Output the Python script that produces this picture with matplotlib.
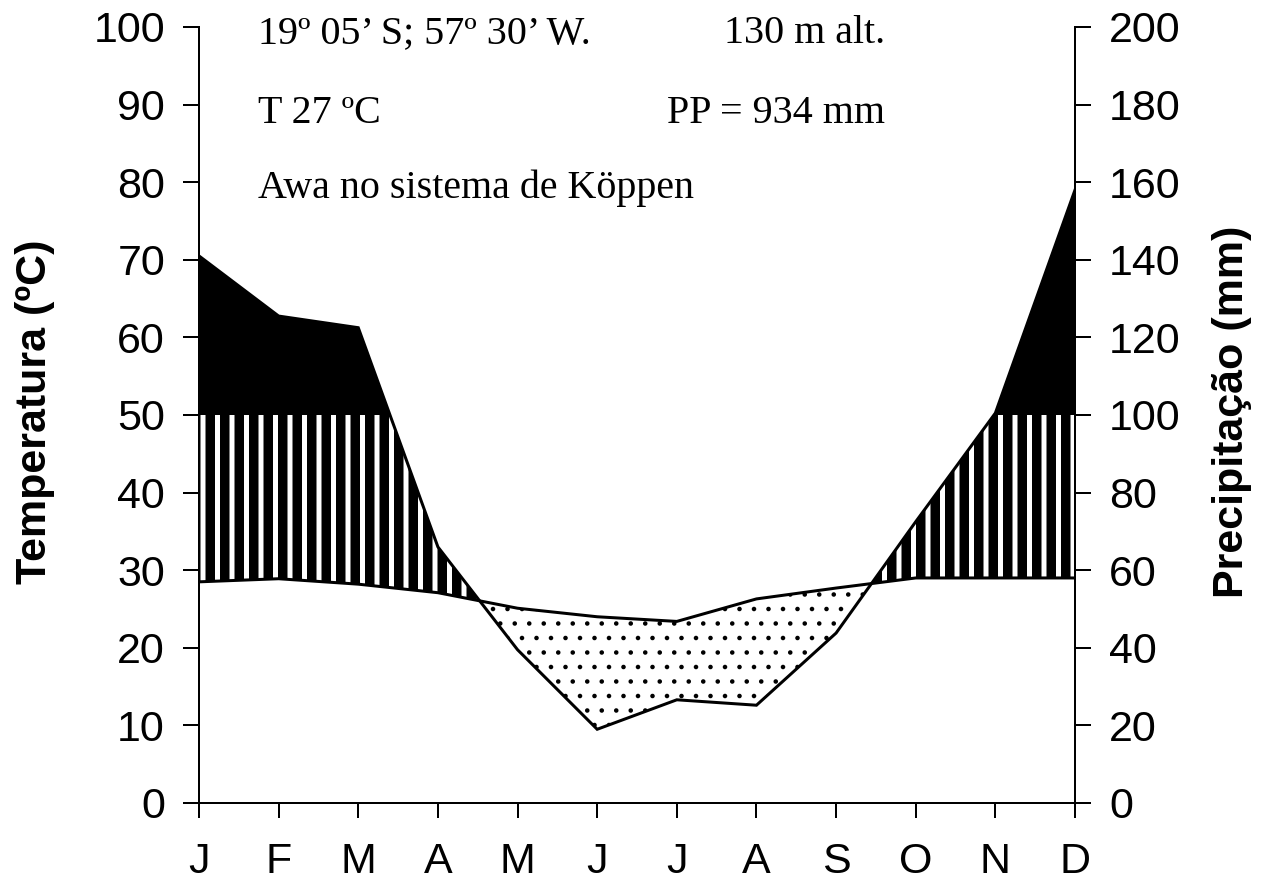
import numpy as np
import matplotlib
matplotlib.use("Agg")
import matplotlib.pyplot as plt

meses = ["J", "F", "M", "A", "M", "J", "J", "A", "S", "O", "N", "D"]
temperatura = [28.5, 28.9, 28.2, 27.1, 25.1, 24.0, 23.4, 26.3, 27.7, 29.0, 29.0, 29.0]  # ºC
precipitacao = [141, 125.5, 122.5, 66, 39.5, 19, 26.6, 25.2, 43.8, 72.5, 100.5, 158]  # mm

DPI = 87
PX = 72 / DPI  # pontos por pixel

plt.rcParams["font.family"] = ["Liberation Sans", "DejaVu Sans"]

fig = plt.figure(figsize=(1263 / DPI, 885 / DPI), dpi=DPI)
ax = fig.add_axes([199 / 1263, 82 / 885, 876 / 1263, 776 / 885])

x = np.arange(len(meses))
temp = np.array(temperatura)
prec = np.array(precipitacao) / 2  # escala 1 ºC = 2 mm

# grade fina so para os preenchimentos
xf = np.linspace(0, 11, 2201)
tf = np.interp(xf, x, temp)
pf = np.interp(xf, x, prec)

# periodo super-umido (> 100 mm)
ax.fill_between(xf, 50, pf, where=pf >= 50, facecolor="black",
                edgecolor="black", linewidth=0)

# periodo umido : listras verticais
with plt.rc_context({"hatch.linewidth": 9.5 * PX}):
    listras = ax.fill_between(xf, tf, np.minimum(pf, 50), where=pf >= tf,
                              facecolor="white", edgecolor="black",
                              linewidth=0, hatch="|")
if hasattr(listras, "set_hatch_linewidth"):
    listras.set_hatch_linewidth(9.5 * PX)

# periodo seco : pontilhado
with plt.rc_context({"hatch.linewidth": 1.6 * PX}):
    pontos = ax.fill_between(xf, pf, tf, where=tf >= pf, facecolor="white",
                             edgecolor="black", linewidth=0, hatch=".")
if hasattr(pontos, "set_hatch_linewidth"):
    pontos.set_hatch_linewidth(1.6 * PX)

ax.plot(x, temp, color="black", linewidth=3 * PX, solid_joinstyle="miter")
ax.plot(x, prec, color="black", linewidth=3 * PX, solid_joinstyle="miter")

ax.set_xlim(0, 11)
ax.set_ylim(0, 100)
ax.set_xticks(x)
ax.set_xticklabels(meses)
ax.set_yticks(np.arange(0, 101, 10))

ax2 = ax.twinx()
ax2.set_ylim(0, 200)
ax2.set_yticks(np.arange(0, 201, 20))

for a in (ax, ax2):
    for s in a.spines.values():
        s.set_linewidth(2 * PX)
    a.spines["top"].set_visible(False)
ax.spines["right"].set_visible(False)
ax2.spines["left"].set_visible(False)
ax2.spines["bottom"].set_visible(False)

fs = 43 * PX
ax.tick_params(axis="y", direction="out", length=16 * PX, width=2 * PX,
               labelsize=fs, pad=18 * PX)
ax.tick_params(axis="x", direction="out", length=15 * PX, width=2 * PX,
               labelsize=fs, pad=24 * PX)
ax2.tick_params(axis="y", direction="out", length=16 * PX, width=2 * PX,
                labelsize=fs, pad=18 * PX)

fig.text(35 / 1263, 1 - 412 / 885, "Temperatura (ºC)", rotation=90,
         ha="center", va="center", fontsize=fs, fontweight="bold")
fig.text(1232 / 1263, 1 - 412 / 885, "Precipitação (mm)", rotation=90,
         ha="center", va="center", fontsize=fs, fontweight="bold")

fs_serif = 40 * PX
serif = ["Liberation Serif", "DejaVu Serif"]
ax.text(0.74, 97.9, "19º 05’ S; 57º 30’ W.", family=serif, fontsize=fs_serif,
        ha="left", va="baseline")
ax.text(8.62, 97.9, "130 m alt.", family=serif, fontsize=fs_serif,
        ha="right", va="baseline")
ax.text(0.74, 87.6, "T 27 ºC", family=serif, fontsize=fs_serif,
        ha="left", va="baseline")
ax.text(8.62, 87.6, "PP = 934 mm", family=serif, fontsize=fs_serif,
        ha="right", va="baseline")
ax.text(0.74, 78.0, "Awa no sistema de Köppen", family=serif, fontsize=fs_serif,
        ha="left", va="baseline")

fig.savefig("out.png", dpi=DPI)
